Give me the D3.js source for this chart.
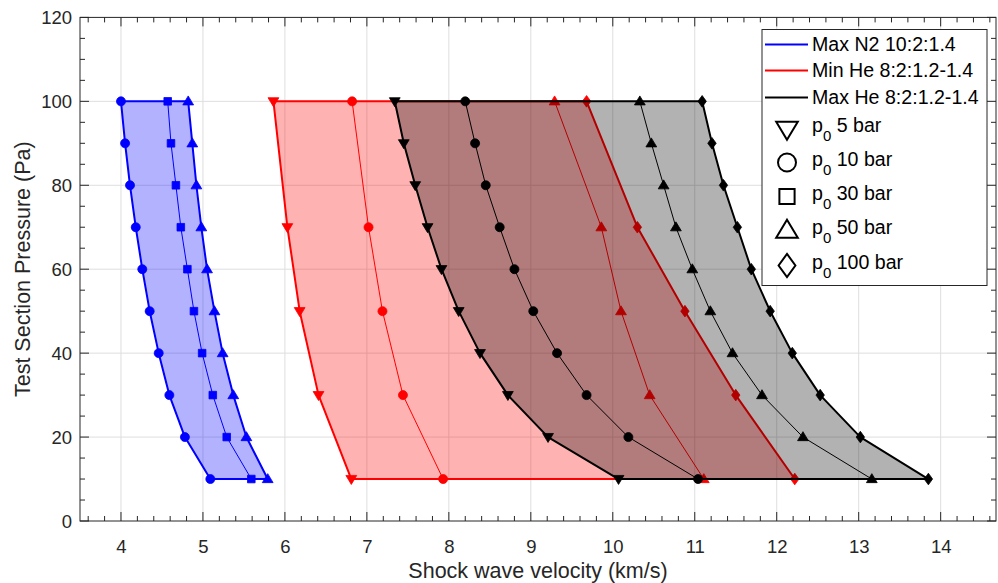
<!DOCTYPE html>
<html>
<head>
<meta charset="utf-8">
<script src="https://cdn.jsdelivr.net/npm/d3@7/dist/d3.min.js"></script>
<style>
  html, body { margin: 0; padding: 0; background: #fff; }
  svg { display: block; font-family: "Liberation Sans", Arial, Helvetica, sans-serif; }
</style>
</head>
<body>
<svg id="chart" width="998" height="583"></svg>
<script>
// Test section pressure levels (Pa)
const pressureFull = [100, 90, 80, 70, 60, 50, 40, 30, 20, 10];
const pressureMin = [100, 70, 50, 30, 10];

// Max N2 10:2:1.4 — shock velocity (km/s) per reservoir pressure p0
const n2Max10 = [4.00, 4.05, 4.11, 4.18, 4.26, 4.35, 4.46, 4.59, 4.78, 5.09];
const n2Max30 = [4.57, 4.61, 4.67, 4.73, 4.81, 4.89, 4.99, 5.12, 5.29, 5.59];
const n2Max50 = [4.82, 4.87, 4.92, 4.98, 5.05, 5.14, 5.24, 5.37, 5.53, 5.79];

// Min He 8:2:1.2-1.4
const heMin5 = [5.86, 6.03, 6.18, 6.41, 6.81];
const heMin10 = [6.82, 7.02, 7.19, 7.44, 7.93];
const heMin50 = [9.29, 9.86, 10.10, 10.45, 11.11];
const heMin100 = [9.68, 10.30, 10.88, 11.50, 12.22];

// Max He 8:2:1.2-1.4
const heMax5 = [7.34, 7.45, 7.59, 7.74, 7.91, 8.12, 8.38, 8.72, 9.21, 10.07];
const heMax10 = [8.20, 8.32, 8.45, 8.62, 8.80, 9.03, 9.32, 9.68, 10.19, 11.04];
const heMax50 = [10.33, 10.47, 10.62, 10.77, 10.97, 11.19, 11.46, 11.82, 12.32, 13.16];
const heMax100 = [11.09, 11.21, 11.35, 11.52, 11.69, 11.92, 12.19, 12.53, 13.02, 13.85];

// Axis ticks
const xTicks = [4, 5, 6, 7, 8, 9, 10, 11, 12, 13, 14];
const yTicks = [0, 20, 40, 60, 80, 100, 120];

// Legend entries
const seriesNames = ["Max N2 10:2:1.4", "Min He 8:2:1.2-1.4", "Max He 8:2:1.2-1.4"];
const seriesColors = ["#0000ff", "#ff0000", "#000000"];
const p0Labels = ["5 bar", "10 bar", "30 bar", "50 bar", "100 bar"];
const p0Markers = ["down", "circle", "square", "up", "diamond"];

const svg = d3.select("#chart");
const L = 80, R = 996, T = 17.4, B = 521;
const x = d3.scaleLinear().domain([3.5, 14.675]).range([L, R]);
const y = d3.scaleLinear().domain([0, 120]).range([B, T]);
const axisColor = "#262626";

// Marker shapes, scaled by k
function markerPath(type, k) {
  const p = d3.path();
  if (type === "circle") {
    p.arc(0, 0, 4.5 * k, 0, 2 * Math.PI); p.closePath();
  } else if (type === "square") {
    const s = 3.8 * k; p.rect(-s, -s, 2 * s, 2 * s);
  } else if (type === "up") {
    p.moveTo(0, -5.4 * k); p.lineTo(5.4 * k, 3.6 * k); p.lineTo(-5.4 * k, 3.6 * k); p.closePath();
  } else if (type === "down") {
    p.moveTo(0, 5.4 * k); p.lineTo(5.4 * k, -3.6 * k); p.lineTo(-5.4 * k, -3.6 * k); p.closePath();
  } else if (type === "diamond") {
    p.moveTo(0, -5.8 * k); p.lineTo(4.2 * k, 0); p.lineTo(0, 5.8 * k); p.lineTo(-4.2 * k, 0); p.closePath();
  }
  return p.toString();
}

// Grid
const grid = svg.append("g");
grid.selectAll("line.gx").data(xTicks).join("line")
  .attr("x1", d => x(d)).attr("x2", d => x(d)).attr("y1", T).attr("y2", B)
  .attr("stroke", "#dedede").attr("stroke-width", 1);
grid.selectAll("line.gy").data(yTicks.filter(d => d > 0 && d < 120)).join("line")
  .attr("x1", L).attr("x2", R).attr("y1", d => y(d)).attr("y2", d => y(d))
  .attr("stroke", "#dedede").attr("stroke-width", 1);

const plot = svg.append("g");
const lineGen = d3.line().x(d => x(d[0])).y(d => y(d[1]));
const zip = (vals, ps) => vals.map((v, i) => [v, ps[i]]);

function drawGroup(color, ps, left, right, series) {
  // shaded band between the outer curves
  const band = ps.map((p, i) => ({ p, l: left[i], r: right[i] }));
  plot.append("path")
    .attr("d", d3.area().y(d => y(d.p)).x0(d => x(d.l)).x1(d => x(d.r))(band))
    .attr("fill", color).attr("fill-opacity", 0.3).attr("stroke", "none");
  // top and bottom edges
  const last = ps.length - 1;
  [[[left[0], ps[0]], [right[0], ps[0]]], [[left[last], ps[last]], [right[last], ps[last]]]]
    .forEach(seg => plot.append("path").attr("d", lineGen(seg))
      .attr("fill", "none").attr("stroke", color).attr("stroke-width", 2));
  series.forEach(s => {
    const pts = zip(s.vals, ps);
    plot.append("path").attr("d", lineGen(pts))
      .attr("fill", "none").attr("stroke", color).attr("stroke-width", s.w)
      .attr("stroke-linejoin", "round");
    plot.append("g").selectAll("path").data(pts).join("path")
      .attr("transform", d => `translate(${x(d[0])},${y(d[1])})`)
      .attr("d", markerPath(s.m, 1)).attr("fill", color).attr("stroke", color).attr("stroke-width", 0.8);
  });
}

drawGroup("#0000ff", pressureFull, n2Max10, n2Max50, [
  { vals: n2Max10, m: "circle", w: 2 },
  { vals: n2Max30, m: "square", w: 1 },
  { vals: n2Max50, m: "up", w: 2 }
]);
drawGroup("#ff0000", pressureMin, heMin5, heMin100, [
  { vals: heMin5, m: "down", w: 2 },
  { vals: heMin10, m: "circle", w: 1 },
  { vals: heMin50, m: "up", w: 1 },
  { vals: heMin100, m: "diamond", w: 2 }
]);
drawGroup("#000000", pressureFull, heMax5, heMax100, [
  { vals: heMax5, m: "down", w: 2 },
  { vals: heMax10, m: "circle", w: 1 },
  { vals: heMax50, m: "up", w: 1 },
  { vals: heMax100, m: "diamond", w: 2 }
]);

// Axes (inward ticks on all four sides)
const xMinor = d3.range(36, 147, 2).map(v => v / 10).filter(v => !xTicks.includes(v));
const yMinor = d3.range(5, 120, 5).filter(v => !yTicks.includes(v));
const axes = svg.append("g").attr("stroke", axisColor);
function ticks(vals, len, horizontal) {
  vals.forEach(v => {
    if (horizontal) {
      axes.append("line").attr("x1", x(v)).attr("x2", x(v)).attr("y1", B).attr("y2", B - len);
      axes.append("line").attr("x1", x(v)).attr("x2", x(v)).attr("y1", T).attr("y2", T + len);
    } else {
      axes.append("line").attr("x1", L).attr("x2", L + len).attr("y1", y(v)).attr("y2", y(v));
      axes.append("line").attr("x1", R).attr("x2", R - len).attr("y1", y(v)).attr("y2", y(v));
    }
  });
}
ticks(xTicks, 9, true); ticks(xMinor, 5, true);
ticks(yTicks, 9, false); ticks(yMinor, 5, false);
axes.append("rect").attr("x", L).attr("y", T).attr("width", R - L).attr("height", B - T)
  .attr("fill", "none").attr("stroke-width", 1);

const xAxis = d3.axisBottom(x).tickValues(xTicks).tickSize(0).tickPadding(0).tickFormat(d3.format("d"));
const gx = svg.append("g").attr("transform", `translate(0,${B})`).call(xAxis);
gx.select(".domain").remove();
gx.selectAll("text").attr("y", 32).attr("dy", 0).attr("font-size", 18.5)
  .attr("font-family", "Liberation Sans, Arial, sans-serif").attr("fill", axisColor);

const yAxis = d3.axisLeft(y).tickValues(yTicks).tickSize(0).tickPadding(0).tickFormat(d3.format("d"));
const gy = svg.append("g").attr("transform", `translate(${L},0)`).call(yAxis);
gy.select(".domain").remove();
gy.selectAll("text").attr("x", -8).attr("dy", "0.35em").attr("font-size", 18.5)
  .attr("font-family", "Liberation Sans, Arial, sans-serif").attr("fill", axisColor);

svg.append("text").attr("x", (L + R) / 2).attr("y", 578).attr("text-anchor", "middle")
  .attr("font-size", 21.5).attr("fill", axisColor).text("Shock wave velocity (km/s)");
svg.append("text").attr("transform", `translate(30,${(T + B) / 2}) rotate(-90)`)
  .attr("text-anchor", "middle").attr("font-size", 21.5).attr("fill", axisColor)
  .text("Test Section Pressure (Pa)");

// Legend
const lg = svg.append("g");
lg.append("rect").attr("x", 762).attr("y", 29.5).attr("width", 225).attr("height", 256)
  .attr("fill", "#fff").attr("stroke", axisColor).attr("stroke-width", 1);
const lineRowsY = [44.5, 70.5, 97.5];
seriesNames.forEach((name, i) => {
  lg.append("line").attr("x1", 765).attr("x2", 808).attr("y1", lineRowsY[i]).attr("y2", lineRowsY[i])
    .attr("stroke", seriesColors[i]).attr("stroke-width", 2);
  lg.append("text").attr("x", 812).attr("y", lineRowsY[i] + 6.8).attr("font-size", 19.6)
    .attr("fill", "#000").text(name);
});
const markRowsY = [129, 162.5, 196.5, 230.5, 265.5];
p0Labels.forEach((lab, i) => {
  lg.append("path").attr("transform", `translate(787,${markRowsY[i]})`)
    .attr("d", markerPath(p0Markers[i], 2)).attr("fill", "#fff").attr("stroke", "#000").attr("stroke-width", 2);
  const t = lg.append("text").attr("x", 812).attr("y", markRowsY[i] + 3).attr("font-size", 19.6).attr("fill", "#000");
  t.append("tspan").text("p");
  t.append("tspan").attr("dy", 9).attr("font-size", 15).text("0");
  t.append("tspan").attr("dy", -9).text(" " + lab);
});
</script>
</body>
</html>
